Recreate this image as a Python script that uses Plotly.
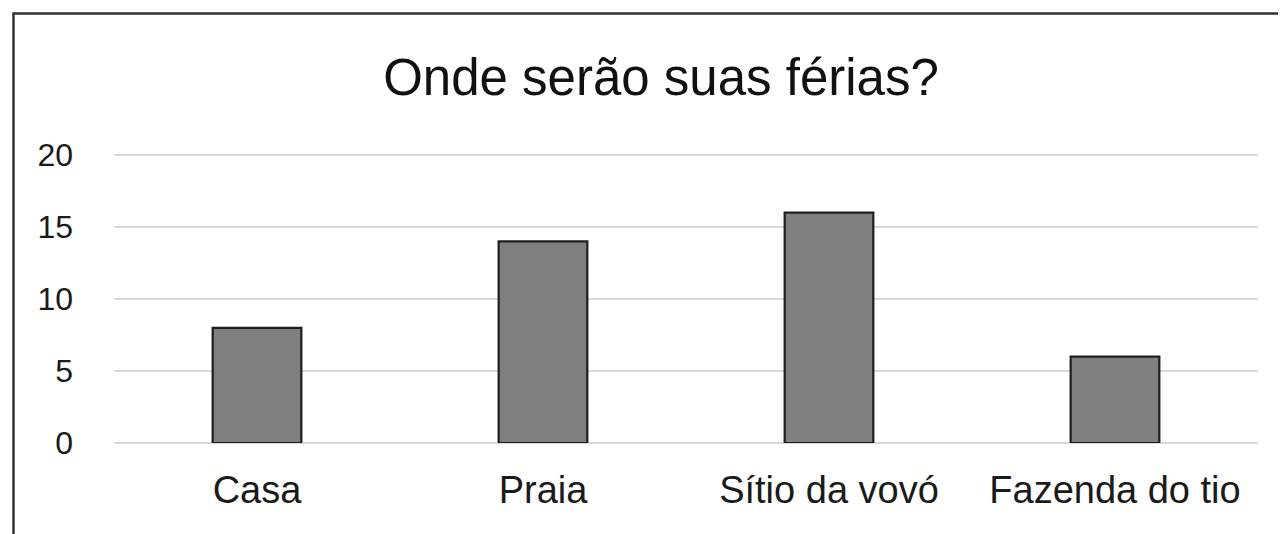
import plotly.graph_objects as go

categories = ["Casa", "Praia", "Sítio da vovó", "Fazenda do tio"]
values = [8, 14, 16, 6]
y_ticks = [0, 5, 10, 15, 20]
title_text = "Onde serão suas férias?"

W, H = 1286, 534
OFF = 8  # page body margin
L, R, T, B = 114 - OFF, 28 + OFF, 155 - OFF - 1, 91 + OFF
YMAX = 20.07

fig = go.Figure(
    go.Bar(
        x=categories,
        y=values,
        width=0.31,
        marker=dict(color="#7f7f7f", line=dict(color="#1e1e1e", width=2.2)),
    )
)

pw = W - L - R
ph = H - T - B
def px_x(v):
    return (v - L) / pw
def px_y(v):
    return (H - B - v) / ph

fig.update_layout(
    width=W,
    height=H,
    margin=dict(l=L, r=R, t=T, b=B, pad=0),
    paper_bgcolor="white",
    plot_bgcolor="white",
    showlegend=False,
    font=dict(family="Liberation Sans, Arial, sans-serif", color="#1a1a1a"),
    title=dict(
        text=title_text,
        x=(661 - OFF) / W,
        xref="container",
        xanchor="center",
        y=1 - (77 - OFF) / H,
        yref="container",
        yanchor="middle",
        font=dict(size=51, color="#111111"),
    ),
    xaxis=dict(
        showgrid=False,
        showline=False,
        ticks="",
        tickfont=dict(size=38),
        ticklabelstandoff=21,
        fixedrange=True,
    ),
    yaxis=dict(
        range=[0, YMAX],
        tickvals=y_ticks,
        showgrid=True,
        gridcolor="#d9d9d9",
        gridwidth=2,
        zeroline=True,
        zerolinecolor="#d9d9d9",
        zerolinewidth=2,
        showline=False,
        ticks="",
        tickfont=dict(size=32),
        ticklabelstandoff=40,
        fixedrange=True,
    ),
    shapes=[
        dict(
            type="path",
            xref="paper",
            yref="paper",
            path=f"M {px_x(1300)} {px_y(13.5 - OFF)} L {px_x(13.5 - OFF)} {px_y(13.5 - OFF)} L {px_x(13.5 - OFF)} {px_y(560)}",
            line=dict(color="#333333", width=2.5),
        )
    ],
)

fig.write_html("out.html")
